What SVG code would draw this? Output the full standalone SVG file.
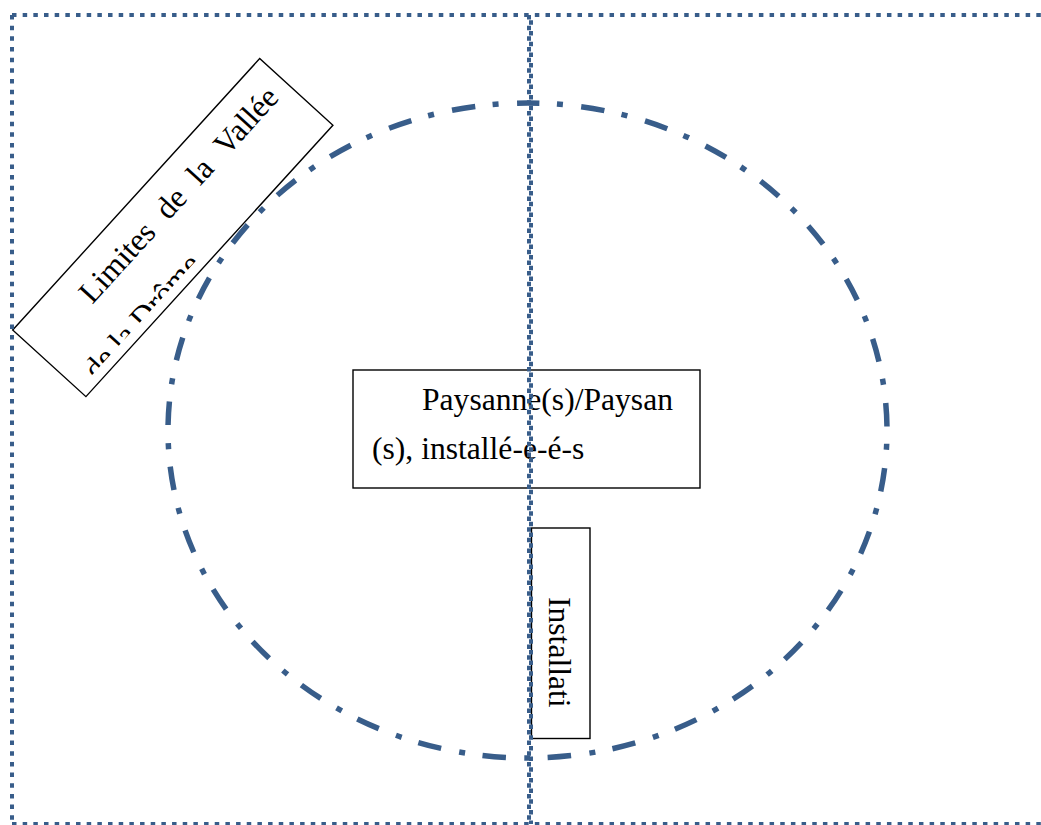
<svg xmlns="http://www.w3.org/2000/svg" width="1041" height="825" viewBox="0 0 1041 825">
<style>
.border{fill:none;stroke:#385D8A;stroke-width:4;stroke-dasharray:4.5 6.17}
.box{fill:#ffffff;stroke:#000000;stroke-width:1.4}
.t{font-family:"Liberation Serif","Times New Roman",serif;font-size:31.6px;fill:#000000}
.ell{fill:none;stroke:#385D8A;stroke-width:5.5;stroke-dasharray:23.5 17.5 6 18.44}
</style>
<defs>
<clipPath id="clipDrome" clipPathUnits="userSpaceOnUse">
<rect x="0" y="0" width="367" height="89"/>
</clipPath>
</defs>
<rect width="1041" height="825" fill="#ffffff"/>
<g id="ellipse">
<path class="ell" stroke-dashoffset="11.5" d="M527.5,103 A359.5,327.5 0 0 1 887,430.5 A359.5,327.5 0 0 1 527.5,758 A359.5,327.5 0 0 1 168,430.5 A359.5,327.5 0 0 1 527.5,103 Z"/>
</g>
<g id="node-limites" transform="translate(12.7,330) rotate(-47.7)">
<rect class="box" x="0" y="0" width="367" height="99"/>
<text class="t" y="42"><tspan x="72">Limites</tspan><tspan x="185.5">de</tspan><tspan x="232.3">la</tspan><tspan x="272.2">Vallée</tspan></text>
<text class="t" x="19" y="97" clip-path="url(#clipDrome)">de la Drôme</text>
</g>
<g id="node-paysan">
<rect class="box" x="353" y="370" width="347" height="118"/>
<text class="t" x="422" y="410">Paysanne(s)/Paysan</text>
<text class="t" x="372" y="459">(s), installé-e-é-s</text>
</g>
<g id="node-installati">
<rect class="box" x="531.5" y="528" width="58.5" height="210.5"/>
<text class="t" transform="translate(549,597) rotate(90)" x="0" y="0">Installati</text>
</g>
<g id="connectors">
<line class="border" x1="12" y1="15" x2="1041" y2="15"/>
<line class="border" x1="12" y1="15" x2="12" y2="824"/>
<line class="border" x1="12" y1="824" x2="1041" y2="824"/>
<line class="border" x1="529" y1="15" x2="529" y2="824"/>
<line class="border" x1="531" y1="15" x2="531" y2="824" stroke-dashoffset="5.3"/>
</g>
</svg>
